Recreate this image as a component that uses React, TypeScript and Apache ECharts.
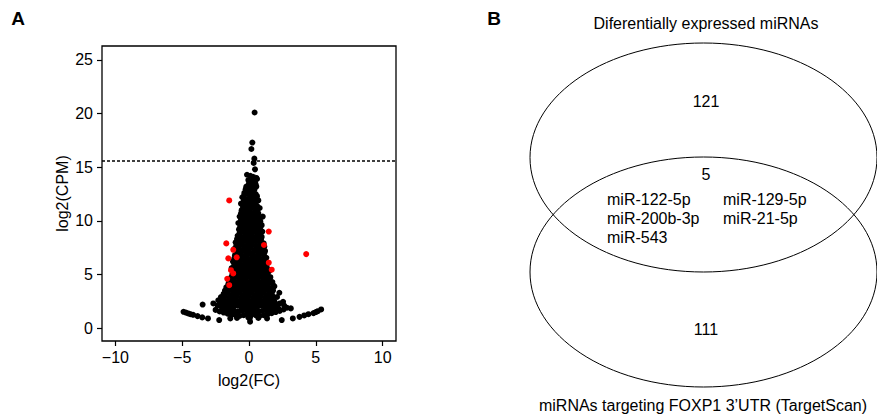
import React, { useEffect, useRef } from "react";
import * as echarts from "echarts";

// log2(FC), log2(CPM)
const blackPoints: number[][] = [
  [0.42, 20.1], [0.25, 17.3], [0.18, 16.7], [0.4, 15.8], [0.35, 15.4], [0.45, 14.8],
  [-0.15, 14.3], [0.1, 14.2], [0.3, 14.1], [0.55, 14.0],
  [-0.05, 13.8], [0.2, 13.7], [0.45, 13.6], [0.6, 13.9],
  [-0.2, 13.2], [0.05, 13.3], [0.35, 13.1], [0.55, 13.2],
  [-0.35, 12.6], [-0.1, 12.8], [0.25, 12.7], [0.5, 12.5],
  [-0.5, 12.2], [-0.2, 12.0], [0.1, 12.3], [0.4, 12.1], [0.7, 11.9],
  [-0.6, 11.6], [-0.3, 11.5], [0.0, 11.7], [0.3, 11.6], [0.6, 11.4], [0.8, 11.2],
  [-0.55, 11.0], [-0.2, 10.9], [0.1, 11.1], [0.45, 10.9], [0.7, 10.7],
  [-0.7, 10.4], [-0.4, 10.5], [-0.1, 10.3], [0.2, 10.4], [0.5, 10.3], [0.8, 10.2], [1.03, 10.4],
  [-0.8, 9.8], [-0.5, 9.9], [-0.2, 9.7], [0.1, 9.8], [0.4, 9.9], [0.7, 9.7], [0.95, 9.6],
  [-0.75, 9.2], [-0.45, 9.3], [-0.15, 9.1], [0.15, 9.2], [0.45, 9.3], [0.75, 9.1], [1.0, 9.0],
  [-0.85, 8.6], [-0.55, 8.5], [-0.25, 8.7], [0.05, 8.6], [0.35, 8.5], [0.65, 8.7], [0.95, 8.5],
  [-1.0, 8.0], [-0.7, 7.9], [-0.4, 8.1], [-0.1, 8.0], [0.2, 7.9], [0.5, 8.1], [0.8, 8.0], [1.1, 7.9],
  [-1.1, 7.4], [-0.8, 7.5], [-0.5, 7.3], [-0.2, 7.4], [0.1, 7.5], [0.4, 7.3], [0.7, 7.4], [1.0, 7.5], [1.2, 7.2],
  [-1.05, 6.8], [-0.75, 6.9], [-0.45, 6.7], [-0.15, 6.8], [0.15, 6.9], [0.45, 6.7], [0.75, 6.8], [1.05, 6.9],
  [-1.2, 6.2], [-0.9, 6.1], [-0.6, 6.3], [-0.3, 6.2], [0.0, 6.1], [0.3, 6.3], [0.6, 6.2], [0.9, 6.1], [1.2, 6.3],
  [-1.3, 5.6], [-1.0, 5.7], [-0.7, 5.5], [-0.4, 5.6], [-0.1, 5.7], [0.2, 5.5], [0.5, 5.6], [0.8, 5.7], [1.1, 5.5], [1.35, 5.6],
  [-1.25, 5.0], [-0.95, 5.1], [-0.65, 4.9], [-0.35, 5.0], [-0.05, 5.1], [0.25, 4.9], [0.55, 5.0], [0.85, 5.1], [1.15, 4.9], [1.4, 5.0],
  [-1.5, 4.4], [-1.2, 4.5], [-0.9, 4.3], [-0.6, 4.4], [-0.3, 4.5], [0.0, 4.3], [0.3, 4.4], [0.6, 4.5], [0.9, 4.3], [1.2, 4.4], [1.5, 4.5], [1.75, 4.3],
  [-1.7, 3.8], [-1.4, 3.9], [-1.1, 3.7], [-0.8, 3.8], [-0.5, 3.9], [-0.2, 3.7], [0.1, 3.8], [0.4, 3.9], [0.7, 3.7], [1.0, 3.8], [1.3, 3.9], [1.6, 3.7], [1.9, 3.9],
  [-1.9, 3.2], [-1.6, 3.3], [-1.3, 3.1], [-1.0, 3.2], [-0.7, 3.3], [-0.4, 3.1], [-0.1, 3.2], [0.2, 3.3], [0.5, 3.1], [0.8, 3.2], [1.1, 3.3], [1.4, 3.1], [1.7, 3.2], [2.27, 3.3], [2.1, 2.9],
  [-2.3, 2.6], [-2.0, 2.7], [-1.7, 2.5], [-1.4, 2.6], [-1.1, 2.7], [-0.8, 2.5], [-0.5, 2.6], [-0.2, 2.7], [0.1, 2.5], [0.4, 2.6], [0.7, 2.7], [1.0, 2.5], [1.3, 2.6], [1.6, 2.7], [1.9, 2.5], [2.55, 2.45],
  [-2.67, 2.3], [-2.35, 2.1], [-2.05, 2.0], [-1.75, 2.1], [-1.45, 1.9], [-1.15, 2.0], [-0.85, 2.1], [-0.55, 1.9], [-0.25, 2.0], [0.05, 2.1], [0.35, 1.9], [0.65, 2.0], [0.95, 2.1], [1.25, 1.9], [1.55, 2.0], [1.85, 2.1], [2.15, 1.9], [2.63, 2.1], [3.13, 1.84], [-3.47, 2.2],
  [-2.5, 1.7], [-2.2, 1.55], [-1.9, 1.45], [-1.6, 1.35], [-1.3, 1.25], [-1.0, 1.2], [-0.7, 1.15], [-0.4, 1.2], [-0.1, 1.3], [0.2, 1.4], [0.5, 1.2], [0.8, 1.15], [1.1, 1.2], [1.4, 1.3], [1.7, 1.4], [2.0, 1.5], [2.3, 1.6], [2.6, 1.75], [2.85, 1.9],
  [0.08, 0.6], [0.05, 0.9], [0.1, 1.1], [-0.05, 1.0], [-1.4, 0.9], [1.35, 0.9], [-0.9, 0.95], [0.7, 0.95],
  [-4.9, 1.52], [-4.72, 1.45], [-4.55, 1.37], [-4.38, 1.3], [-4.18, 1.24], [-3.85, 1.12], [-3.5, 1.0], [-3.07, 0.9], [-2.23, 0.75],
  [2.45, 0.75], [3.28, 0.9], [3.78, 1.05], [4.13, 1.18], [4.45, 1.3], [4.83, 1.4], [5.0, 1.5], [5.15, 1.58], [5.4, 1.74],
];

// more miRNAs inside the dense core of the volcano
const blackPointsCore: number[][] = [
  [0.0, 13.5], [0.3, 13.45], [0.5, 13.4],
  [-0.25, 12.95], [0.1, 13.0], [0.4, 12.9],
  [-0.35, 12.4], [-0.05, 12.5], [0.3, 12.4], [0.6, 12.3],
  [-0.4, 11.85], [-0.1, 11.9], [0.2, 11.95], [0.5, 11.8],
  [-0.45, 11.3], [-0.15, 11.25], [0.15, 11.35], [0.45, 11.25], [0.65, 11.1],
  [-0.6, 10.7], [-0.3, 10.75], [0.0, 10.65], [0.3, 10.7], [0.6, 10.55],
  [-0.6, 10.1], [-0.3, 10.05], [0.0, 10.1], [0.3, 10.05], [0.6, 10.0], [0.85, 9.95],
  [-0.65, 9.5], [-0.35, 9.55], [-0.05, 9.45], [0.25, 9.5], [0.55, 9.55], [0.85, 9.4],
  [-0.7, 8.9], [-0.4, 8.95], [-0.1, 8.85], [0.2, 8.9], [0.5, 8.95], [0.85, 8.8],
  [-0.9, 8.3], [-0.6, 8.25], [-0.3, 8.35], [0.0, 8.3], [0.3, 8.25], [0.6, 8.35], [0.9, 8.25],
  [-0.95, 7.7], [-0.65, 7.75], [-0.35, 7.65], [-0.05, 7.7], [0.25, 7.75], [0.55, 7.65], [0.85, 7.7], [1.15, 7.6],
  [-0.9, 7.1], [-0.6, 7.05], [-0.3, 7.15], [0.0, 7.1], [0.3, 7.05], [0.6, 7.15], [0.9, 7.1], [1.15, 7.0],
  [-1.1, 6.5], [-0.8, 6.45], [-0.5, 6.55], [-0.2, 6.5], [0.1, 6.45], [0.4, 6.55], [0.7, 6.5], [1.0, 6.45], [1.3, 6.55],
  [-1.1, 5.9], [-0.8, 5.95], [-0.5, 5.85], [-0.2, 5.9], [0.1, 5.95], [0.4, 5.85], [0.7, 5.9], [1.0, 5.95], [1.3, 5.85],
  [-1.15, 5.3], [-0.85, 5.35], [-0.55, 5.25], [-0.25, 5.3], [0.05, 5.35], [0.35, 5.25], [0.65, 5.3], [0.95, 5.35], [1.25, 5.25], [1.5, 5.3],
  [-1.35, 4.7], [-1.05, 4.75], [-0.75, 4.65], [-0.45, 4.7], [-0.15, 4.75], [0.15, 4.65], [0.45, 4.7], [0.75, 4.75], [1.05, 4.65], [1.35, 4.7], [1.6, 4.75],
  [-1.55, 4.1], [-1.25, 4.15], [-0.95, 4.05], [-0.65, 4.1], [-0.35, 4.15], [-0.05, 4.05], [0.25, 4.1], [0.55, 4.15], [0.85, 4.05], [1.15, 4.1], [1.45, 4.15], [1.8, 4.0],
  [-1.8, 3.5], [-1.5, 3.55], [-1.2, 3.45], [-0.9, 3.5], [-0.6, 3.55], [-0.3, 3.45], [0.0, 3.5], [0.3, 3.55], [0.6, 3.45], [0.9, 3.5], [1.2, 3.55], [1.5, 3.45], [1.8, 3.5],
  [-2.1, 2.9], [-1.8, 2.95], [-1.5, 2.85], [-1.2, 2.9], [-0.9, 2.95], [-0.6, 2.85], [-0.3, 2.9], [0.0, 2.95], [0.3, 2.85], [0.6, 2.9], [0.9, 2.95], [1.2, 2.85], [1.5, 2.9], [1.8, 2.95],
  [-2.2, 2.3], [-1.9, 2.35], [-1.6, 2.25], [-1.3, 2.3], [-1.0, 2.35], [-0.7, 2.25], [-0.4, 2.3], [-0.1, 2.35], [0.2, 2.25], [0.5, 2.3], [0.8, 2.35], [1.1, 2.25], [1.4, 2.3], [1.7, 2.35], [2.0, 2.25], [2.3, 2.3],
  [-2.0, 1.75], [-1.7, 1.7], [-1.4, 1.65], [-1.1, 1.6], [-0.8, 1.55], [-0.5, 1.6], [-0.2, 1.65], [0.1, 1.7], [0.4, 1.6], [0.7, 1.55], [1.0, 1.6], [1.3, 1.65], [1.6, 1.7], [1.9, 1.75], [2.2, 1.8],
];

const redPoints: number[][] = [
  [-1.48, 11.9], [1.48, 9.0], [-1.7, 7.9], [1.12, 7.75], [-1.18, 7.3], [4.28, 6.9],
  [-1.55, 6.5], [-0.92, 6.6], [1.48, 6.1], [-1.35, 5.4], [-1.18, 5.1], [1.7, 5.45],
  [-1.63, 4.6], [-1.48, 4.0],
];

const cpmThreshold = 15.6;
const xTicks = [-10, -5, 0, 5, 10];
const yTicks = [0, 5, 10, 15, 20, 25];

const vennTitleTop = "Diferentially expressed miRNAs";
const vennTitleBottom = "miRNAs targeting FOXP1 3\u2019UTR (TargetScan)";
const vennCounts = { topOnly: "121", overlap: "5", bottomOnly: "111" };
const overlapLeft = ["miR-122-5p", "miR-200b-3p", "miR-543"];
const overlapRight = ["miR-129-5p", "miR-21-5p"];

const FONT = "'Liberation Sans', Arial, Helvetica, sans-serif";

export default function App() {
  const ref = useRef<HTMLDivElement>(null);
  useEffect(() => {
    document.body.style.margin = "0";
    const chart = echarts.init(ref.current!, null, { renderer: "svg" });
    const textStyle = (x: number, y: number, text: string, align: string, extra: any = {}) => ({
      type: "text",
      style: {
        x, y, text, textAlign: align, textVerticalAlign: "middle",
        fontSize: 16, fontFamily: FONT, fill: "#000", ...extra,
      },
    });
    const graphics: any[] = [
      textStyle(18, 18, "A", "center", { fontWeight: "bold", fontSize: 19 }),
      textStyle(494, 18, "B", "center", { fontWeight: "bold", fontSize: 19 }),
      { type: "ellipse", shape: { cx: 703.5, cy: 157.5, rx: 173.5, ry: 114.5 }, style: { fill: "none", stroke: "#000", lineWidth: 1 } },
      { type: "ellipse", shape: { cx: 703.5, cy: 272, rx: 173.5, ry: 115 }, style: { fill: "none", stroke: "#000", lineWidth: 1 } },
      textStyle(706, 23, vennTitleTop, "center"),
      textStyle(706, 101, vennCounts.topOnly, "center"),
      textStyle(706, 174, vennCounts.overlap, "center"),
      textStyle(706, 329, vennCounts.bottomOnly, "center"),
      textStyle(703, 405, vennTitleBottom, "center"),
      ...overlapLeft.map((t, i) => textStyle(607, 199.5 + i * 19.2, t, "left")),
      ...overlapRight.map((t, i) => textStyle(723, 199.5 + i * 19.2, t, "left")),
    ];
    const dot = { color: "#000", opacity: 1 };
    chart.setOption({
      animation: false,
      grid: { left: 102, top: 46, width: 294, height: 295, show: true, borderColor: "#000", borderWidth: 1.3, containLabel: false },
      xAxis: {
        type: "value", min: -11, max: 11,
        name: "log2(FC)", nameLocation: "middle", nameGap: 31,
        nameTextStyle: { fontSize: 16, fontFamily: FONT, color: "#000" },
        axisLine: { show: false, onZero: false },
        splitLine: { show: false },
        axisTick: { show: true, customValues: xTicks, length: 5, lineStyle: { color: "#000", width: 1.2 } },
        axisLabel: { customValues: xTicks, fontSize: 16, fontFamily: FONT, color: "#000", margin: 8,
          formatter: (v: number) => String(v).replace("-", "\u2212") },
      },
      yAxis: {
        type: "value", min: -1.2, max: 26.3,
        name: "log2(CPM)", nameLocation: "middle", nameGap: 32, nameRotate: 90,
        nameTextStyle: { fontSize: 16, fontFamily: FONT, color: "#000" },
        axisLine: { show: false, onZero: false },
        splitLine: { show: false },
        axisTick: { show: true, customValues: yTicks, length: 5, lineStyle: { color: "#000", width: 1.2 } },
        axisLabel: { customValues: yTicks, fontSize: 16, fontFamily: FONT, color: "#000", margin: 9 },
      },
      series: [
        {
          type: "scatter", data: blackPoints, symbolSize: 6,
          itemStyle: dot,
          markLine: {
            silent: true, symbol: "none", label: { show: false },
            lineStyle: { color: "#000", type: [3, 2], width: 1.5 },
            data: [{ yAxis: cpmThreshold }],
          },
        },
        { type: "scatter", data: blackPointsCore, symbolSize: 6, itemStyle: dot },
        { type: "scatter", data: redPoints, symbolSize: 6, itemStyle: { color: "#ff0000", opacity: 1 } },
      ],
      graphic: graphics,
    });
    return () => chart.dispose();
  }, []);
  return <div ref={ref} style={{ width: 877, height: 417 }} />;
}
